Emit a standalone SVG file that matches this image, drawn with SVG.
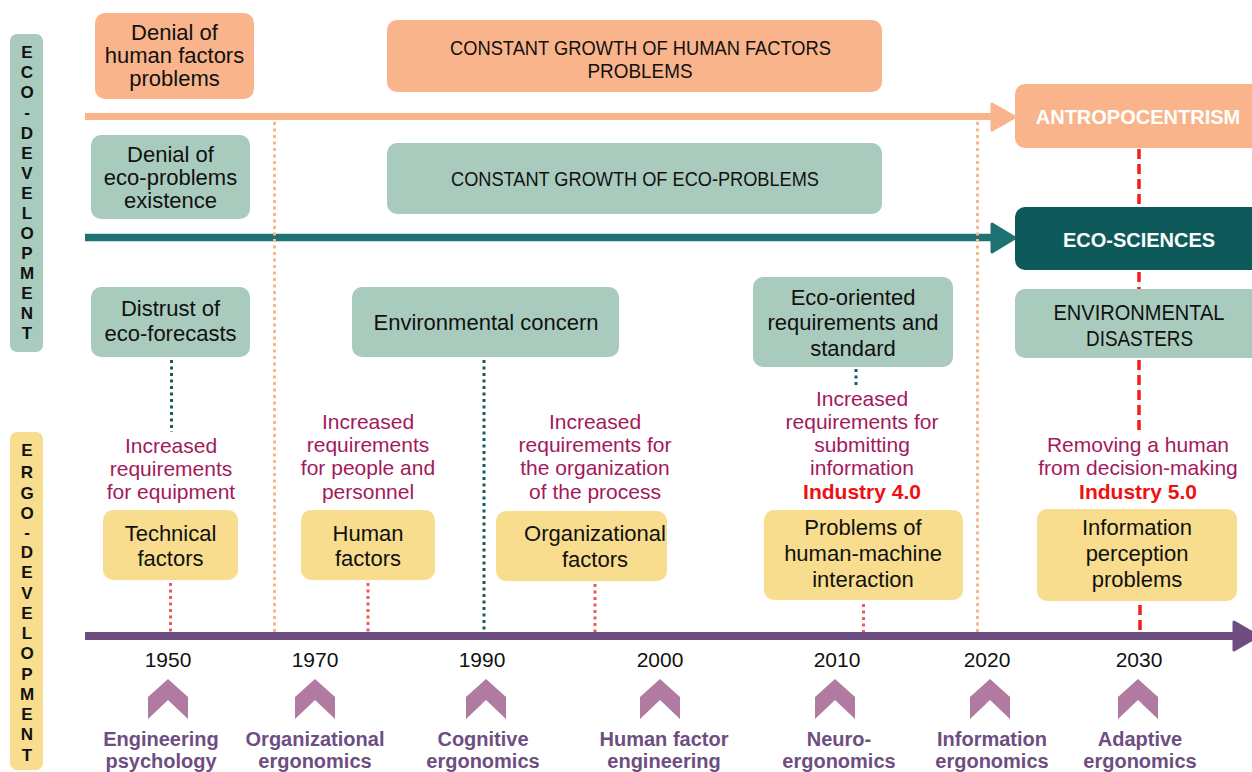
<svg xmlns="http://www.w3.org/2000/svg" width="1252" height="772" viewBox="0 0 1252 772">
<defs>
<style>
text{font-family:"Liberation Sans",Arial,sans-serif;text-anchor:middle}
.bx{font-size:22px;fill:#111}
.cap{font-size:21px;fill:#111}
.wh{font-size:20px;fill:#fff;font-weight:bold}
.mg{font-size:21px;fill:#a3195b}
.ind{font-size:21px;fill:#f01010;font-weight:bold}
.yr{font-size:21px;fill:#111}
.pl{font-size:20px;fill:#6e4e81;font-weight:bold}
.vt{font-size:17px;fill:#111;font-weight:bold}
.or{fill:#f9b48b}
.gr{fill:#a8cbbd}
.ye{fill:#f7dd8d}
.dk{fill:#0e5a5a}
.chev{fill:#b07aa1}
.dotO{stroke:#f9b48b;stroke-width:3;stroke-dasharray:3 3.5;fill:none}
.dotT{stroke:#1a5c5c;stroke-width:3;stroke-dasharray:3 3.5;fill:none}
.dotP{stroke:#ee5a5a;stroke-width:3;stroke-dasharray:3 3.5;fill:none}
.dashR{stroke:#f51c1c;stroke-width:3.5;stroke-dasharray:10 5;fill:none}
</style>
</defs>

<g id="axis-labels">
<rect x="10" y="34" width="33" height="318" rx="7" class="gr"/>
<text class="vt"><tspan x="27" y="58">E</tspan><tspan x="27" y="78">C</tspan><tspan x="27" y="98">O</tspan><tspan x="27" y="118">-</tspan><tspan x="27" y="139">D</tspan><tspan x="27" y="159">E</tspan><tspan x="27" y="179">V</tspan><tspan x="27" y="199">E</tspan><tspan x="27" y="219">L</tspan><tspan x="27" y="239">O</tspan><tspan x="27" y="259">P</tspan><tspan x="27" y="279">M</tspan><tspan x="27" y="299">E</tspan><tspan x="27" y="319">N</tspan><tspan x="27" y="339">T</tspan></text>
<rect x="10" y="432" width="33" height="338" rx="7" class="ye"/>
<text class="vt"><tspan x="27" y="456">E</tspan><tspan x="27" y="478">R</tspan><tspan x="27" y="499">G</tspan><tspan x="27" y="519">O</tspan><tspan x="27" y="538">-</tspan><tspan x="27" y="558">D</tspan><tspan x="27" y="578">E</tspan><tspan x="27" y="599">V</tspan><tspan x="27" y="619">E</tspan><tspan x="27" y="639">L</tspan><tspan x="27" y="659">O</tspan><tspan x="27" y="680">P</tspan><tspan x="27" y="700">M</tspan><tspan x="27" y="720">E</tspan><tspan x="27" y="740">N</tspan><tspan x="27" y="761">T</tspan></text>
</g>

<g id="connectors">
<line x1="85" y1="116.5" x2="996" y2="116.5" stroke="#f9b48b" stroke-width="7"/>
<polygon points="992,104 1015,117 992,130" fill="#f9b48b" stroke="#f9b48b" stroke-width="3" stroke-linejoin="round"/>
<line x1="85" y1="237.5" x2="996" y2="237.5" stroke="#1f7272" stroke-width="7.5"/>
<polygon points="992,224 1015,238 992,252" fill="#1f7272" stroke="#1f7272" stroke-width="3" stroke-linejoin="round"/>
<line x1="85" y1="636" x2="1236" y2="636" stroke="#6e4e81" stroke-width="8"/>
<polygon points="1234,622 1258,636 1234,650" fill="#6e4e81" stroke="#6e4e81" stroke-width="3" stroke-linejoin="round"/>
<line x1="274.5" y1="122" x2="274.5" y2="632" class="dotO"/>
<line x1="977.5" y1="122" x2="977.5" y2="632" class="dotO"/>
<line x1="1139" y1="149" x2="1139" y2="207" class="dashR"/>
<line x1="1139" y1="272" x2="1139" y2="289" class="dashR"/>
<line x1="1139" y1="360" x2="1139" y2="432" class="dashR"/>
<line x1="1140" y1="605" x2="1140" y2="632" class="dashR"/>
<line x1="171.5" y1="360" x2="171.5" y2="432" class="dotT"/>
<line x1="484" y1="360" x2="484" y2="632" class="dotT"/>
<line x1="856" y1="369" x2="856" y2="388" class="dotT"/>
<line x1="170.5" y1="583" x2="170.5" y2="632" class="dotP"/>
<line x1="368" y1="583" x2="368" y2="632" class="dotP"/>
<line x1="595" y1="584" x2="595" y2="632" class="dotP"/>
<line x1="863.5" y1="604" x2="863.5" y2="632" class="dotP"/>
</g>

<g id="denial-human">
<rect x="95" y="13" width="159" height="86" rx="10" class="or"/>
<text class="bx"><tspan x="174.5" y="40">Denial of</tspan><tspan x="174.5" y="63">human factors</tspan><tspan x="174.5" y="86">problems</tspan></text>
</g>
<g id="growth-human">
<rect x="387" y="20" width="495" height="72" rx="10" class="or"/>
<text class="cap" x="640.5" y="55" textLength="381" lengthAdjust="spacingAndGlyphs">CONSTANT GROWTH OF HUMAN FACTORS</text>
<text class="cap" x="640" y="78" textLength="105" lengthAdjust="spacingAndGlyphs">PROBLEMS</text>
</g>
<g id="antropocentrism">
<rect x="1015" y="84" width="250" height="64" rx="10" class="or"/>
<text class="wh" x="1138" y="124">ANTROPOCENTRISM</text>
</g>
<g id="denial-eco">
<rect x="91" y="135" width="159" height="84" rx="10" class="gr"/>
<text class="bx"><tspan x="170.5" y="162">Denial of</tspan><tspan x="170.5" y="185">eco-problems</tspan><tspan x="170.5" y="208">existence</tspan></text>
</g>
<g id="growth-eco">
<rect x="387" y="143" width="495" height="71" rx="10" class="gr"/>
<text class="cap" x="635" y="185.5" textLength="368" lengthAdjust="spacingAndGlyphs">CONSTANT GROWTH OF ECO-PROBLEMS</text>
</g>
<g id="eco-sciences">
<rect x="1015" y="207" width="250" height="63" rx="10" class="dk"/>
<text class="wh" x="1139" y="247">ECO-SCIENCES</text>
</g>
<g id="distrust">
<rect x="91" y="287" width="159" height="70" rx="10" class="gr"/>
<text class="bx"><tspan x="170.5" y="316">Distrust of</tspan><tspan x="170.5" y="341">eco-forecasts</tspan></text>
</g>
<g id="env-concern">
<rect x="352" y="287" width="267" height="70" rx="10" class="gr"/>
<text class="bx" x="486" y="330">Environmental concern</text>
</g>
<g id="eco-oriented">
<rect x="753" y="277" width="200" height="90" rx="10" class="gr"/>
<text class="bx"><tspan x="853" y="305">Eco-oriented</tspan><tspan x="853" y="330">requirements and</tspan><tspan x="853" y="356">standard</tspan></text>
</g>
<g id="env-disasters">
<rect x="1015" y="289" width="250" height="69" rx="10" class="gr"/>
<text class="bx" x="1139" y="320" textLength="171" lengthAdjust="spacingAndGlyphs">ENVIRONMENTAL</text>
<text class="bx" x="1139.5" y="346" textLength="107" lengthAdjust="spacingAndGlyphs">DISASTERS</text>
</g>

<g id="req-equipment">
<text class="mg"><tspan x="171" y="453">Increased</tspan><tspan x="171" y="476">requirements</tspan><tspan x="171" y="499">for equipment</tspan></text>
</g>
<g id="req-people">
<text class="mg"><tspan x="368" y="429">Increased</tspan><tspan x="368" y="452">requirements</tspan><tspan x="368" y="475">for people and</tspan><tspan x="368" y="499">personnel</tspan></text>
</g>
<g id="req-organization">
<text class="mg"><tspan x="595" y="429">Increased</tspan><tspan x="595" y="452">requirements for</tspan><tspan x="595" y="475">the organization</tspan><tspan x="595" y="499">of the process</tspan></text>
</g>
<g id="req-information">
<text class="mg"><tspan x="862" y="406">Increased</tspan><tspan x="862" y="429">requirements for</tspan><tspan x="862" y="452">submitting</tspan><tspan x="862" y="475">information</tspan></text>
<text class="ind" x="862" y="499">Industry 4.0</text>
</g>
<g id="removing-human">
<text class="mg"><tspan x="1138" y="452">Removing a human</tspan><tspan x="1138" y="475">from decision-making</tspan></text>
<text class="ind" x="1138" y="499">Industry 5.0</text>
</g>

<g id="technical">
<rect x="103" y="510" width="135" height="70" rx="10" class="ye"/>
<text class="bx"><tspan x="170.5" y="541">Technical</tspan><tspan x="170.5" y="566">factors</tspan></text>
</g>
<g id="human">
<rect x="301" y="510" width="134" height="70" rx="10" class="ye"/>
<text class="bx"><tspan x="368" y="541">Human</tspan><tspan x="368" y="566">factors</tspan></text>
</g>
<g id="organizational">
<rect x="496" y="511" width="171" height="70" rx="10" class="ye"/>
<text class="bx"><tspan x="595" y="541">Organizational</tspan><tspan x="595" y="567">factors</tspan></text>
</g>
<g id="hmi">
<rect x="764" y="510" width="199" height="90" rx="10" class="ye"/>
<text class="bx"><tspan x="863" y="535">Problems of</tspan><tspan x="863" y="561">human-machine</tspan><tspan x="863" y="587">interaction</tspan></text>
</g>
<g id="perception">
<rect x="1037" y="509" width="200" height="92" rx="10" class="ye"/>
<text class="bx"><tspan x="1137" y="535">Information</tspan><tspan x="1137" y="561">perception</tspan><tspan x="1137" y="587">problems</tspan></text>
</g>

<g id="y1950"><text class="yr" x="168" y="667">1950</text><polygon class="chev" points="148,697 168,679 188,697 188,719 168,700 148,719"/><text class="pl"><tspan x="161" y="746">Engineering</tspan><tspan x="161" y="768">psychology</tspan></text></g>
<g id="y1970"><text class="yr" x="315" y="667">1970</text><polygon class="chev" points="295,697 315,679 335,697 335,719 315,700 295,719"/><text class="pl"><tspan x="315" y="746">Organizational</tspan><tspan x="315" y="768">ergonomics</tspan></text></g>
<g id="y1990"><text class="yr" x="482" y="667">1990</text><polygon class="chev" points="466,697 486,679 506,697 506,719 486,700 466,719"/><text class="pl"><tspan x="483" y="746">Cognitive</tspan><tspan x="483" y="768">ergonomics</tspan></text></g>
<g id="y2000"><text class="yr" x="660" y="667">2000</text><polygon class="chev" points="640,697 660,679 680,697 680,719 660,700 640,719"/><text class="pl"><tspan x="664" y="746">Human factor</tspan><tspan x="664" y="768">engineering</tspan></text></g>
<g id="y2010"><text class="yr" x="837" y="667">2010</text><polygon class="chev" points="815,697 835,679 855,697 855,719 835,700 815,719"/><text class="pl"><tspan x="839" y="746">Neuro-</tspan><tspan x="839" y="768">ergonomics</tspan></text></g>
<g id="y2020"><text class="yr" x="987" y="667">2020</text><polygon class="chev" points="970,697 990,679 1010,697 1010,719 990,700 970,719"/><text class="pl"><tspan x="992" y="746">Information</tspan><tspan x="992" y="768">ergonomics</tspan></text></g>
<g id="y2030"><text class="yr" x="1139" y="667">2030</text><polygon class="chev" points="1118,697 1138,679 1158,697 1158,719 1138,700 1118,719"/><text class="pl"><tspan x="1140" y="746">Adaptive</tspan><tspan x="1140" y="768">ergonomics</tspan></text></g>
</svg>
